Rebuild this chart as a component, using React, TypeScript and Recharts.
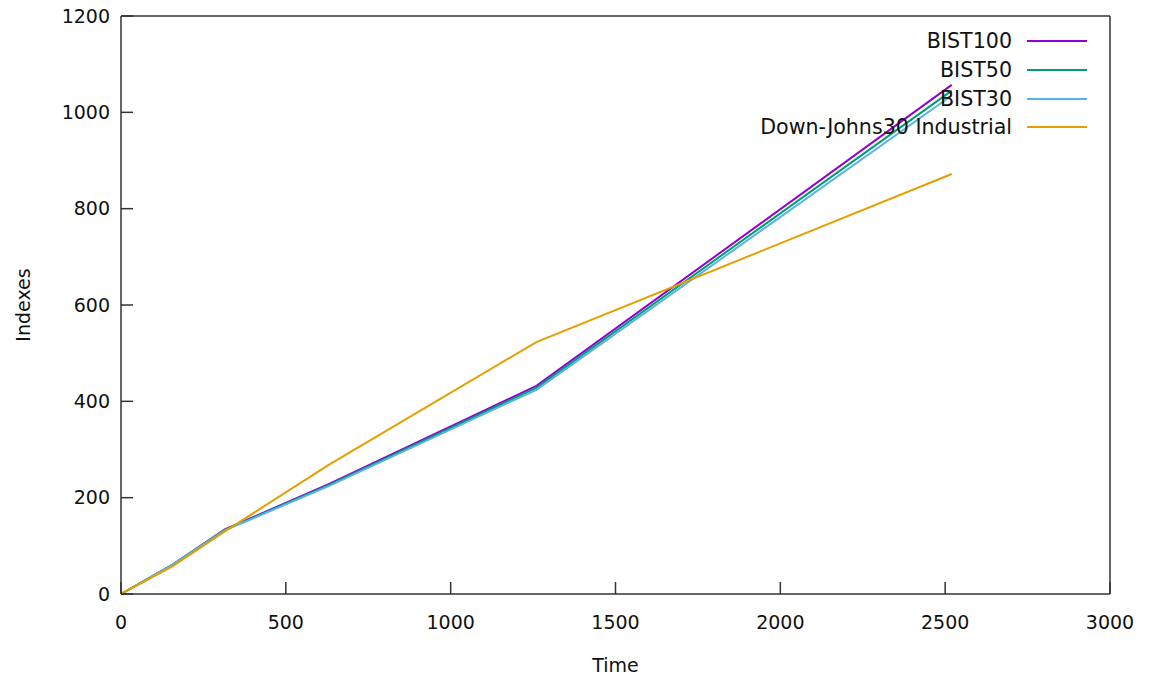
import React from "react";
import {
  LineChart,
  Line,
  XAxis,
  YAxis,
  Legend,
} from "recharts";

const times = [0, 157, 315, 630, 1260, 2520];
const bist100 = [0, 61, 134, 228, 432, 1057];
const bist50 = [0, 61, 133, 226, 428, 1045];
const bist30 = [0, 61, 132, 224, 424, 1035];
const dowJones = [0, 58, 130, 268, 523, 872];

const xTicks = [0, 500, 1000, 1500, 2000, 2500, 3000];
const yTicks = [0, 200, 400, 600, 800, 1000, 1200];

const seriesNames = ["BIST100", "BIST50", "BIST30", "Down-Johns30 Industrial"];
const seriesColors = ["#9400d3", "#009e73", "#56b4e9", "#e69f00"];

const data = times.map((t, i) => ({
  t,
  b100: bist100[i],
  b50: bist50[i],
  b30: bist30[i],
  dj: dowJones[i],
}));

const FONT = "'DejaVu Sans', Verdana, sans-serif";
const tickStyle = { fill: "#111", fontSize: 19, fontFamily: FONT };
const frame = "#333";

function LegendBox({ payload }: { payload?: { value: string; color: string }[] }) {
  const items = [...(payload || [])].sort(
    (a, b) => seriesNames.indexOf(a.value) - seriesNames.indexOf(b.value)
  );
  return (
    <div style={{ fontFamily: FONT, fontSize: 20.6, color: "#111" }}>
      {items.map((p) => (
        <div
          key={p.value}
          style={{ display: "flex", alignItems: "center", justifyContent: "flex-end", height: 28.7 }}
        >
          <span style={{ textAlign: "right", whiteSpace: "nowrap" }}>{p.value}</span>
          <span
            style={{
              display: "inline-block",
              width: 60,
              height: 0,
              borderTop: `2px solid ${p.color}`,
              marginLeft: 15,
            }}
          />
        </div>
      ))}
    </div>
  );
}

export default function App() {
  const keys = ["b100", "b50", "b30", "dj"];
  return (
    <div style={{ position: "absolute", left: 0, top: 0, background: "#fff" }}>
      <LineChart
        width={1151}
        height={679}
        data={data}
        margin={{ top: 15, right: 40, bottom: 0, left: 0 }}
      >
        <XAxis
          dataKey="t"
          type="number"
          domain={[0, 3000]}
          ticks={xTicks}
          height={85}
          stroke={frame}
          strokeWidth={1.5}
          tickSize={-12}
          tickMargin={34}
          tick={tickStyle}
          label={{
            content: ({ viewBox }: any) => (
              <text
                x={viewBox.x + viewBox.width / 2}
                y={viewBox.y + 78}
                textAnchor="middle"
                fontFamily={FONT}
                fontSize={19}
                fill="#111"
              >
                Time
              </text>
            ),
          }}
        />
        <XAxis
          xAxisId="top"
          orientation="top"
          dataKey="t"
          type="number"
          domain={[0, 3000]}
          ticks={xTicks}
          height={1}
          stroke={frame}
          strokeWidth={1.5}
          tickSize={-12}
          tick={false}
        />
        <YAxis
          type="number"
          domain={[0, 1200]}
          ticks={yTicks}
          width={121}
          stroke={frame}
          strokeWidth={1.5}
          tickSize={-12}
          tickMargin={23}
          tick={tickStyle}
          label={{
            content: ({ viewBox }: any) => {
              const cx = 24;
              const cy = viewBox.y + viewBox.height / 2;
              return (
                <text
                  x={cx}
                  y={cy}
                  transform={`rotate(-90, ${cx}, ${cy})`}
                  textAnchor="middle"
                  dominantBaseline="middle"
                  fontFamily={FONT}
                  fontSize={19}
                  fill="#111"
                >
                  Indexes
                </text>
              );
            },
          }}
        />
        <YAxis
          yAxisId="right"
          orientation="right"
          type="number"
          domain={[0, 1200]}
          ticks={yTicks}
          width={1}
          stroke={frame}
          strokeWidth={1.5}
          tickSize={-12}
          tick={false}
        />
        <Legend
          layout="vertical"
          verticalAlign="middle"
          align="center"
          content={<LegendBox />}
          wrapperStyle={{ position: "absolute", top: 27, right: 64, left: "auto", width: "auto" }}
        />
        {keys.map((k, i) => (
          <Line
            key={k}
            dataKey={k}
            name={seriesNames[i]}
            type="linear"
            stroke={seriesColors[i]}
            strokeWidth={2}
            dot={false}
            isAnimationActive={false}
          />
        ))}
      </LineChart>
    </div>
  );
}
